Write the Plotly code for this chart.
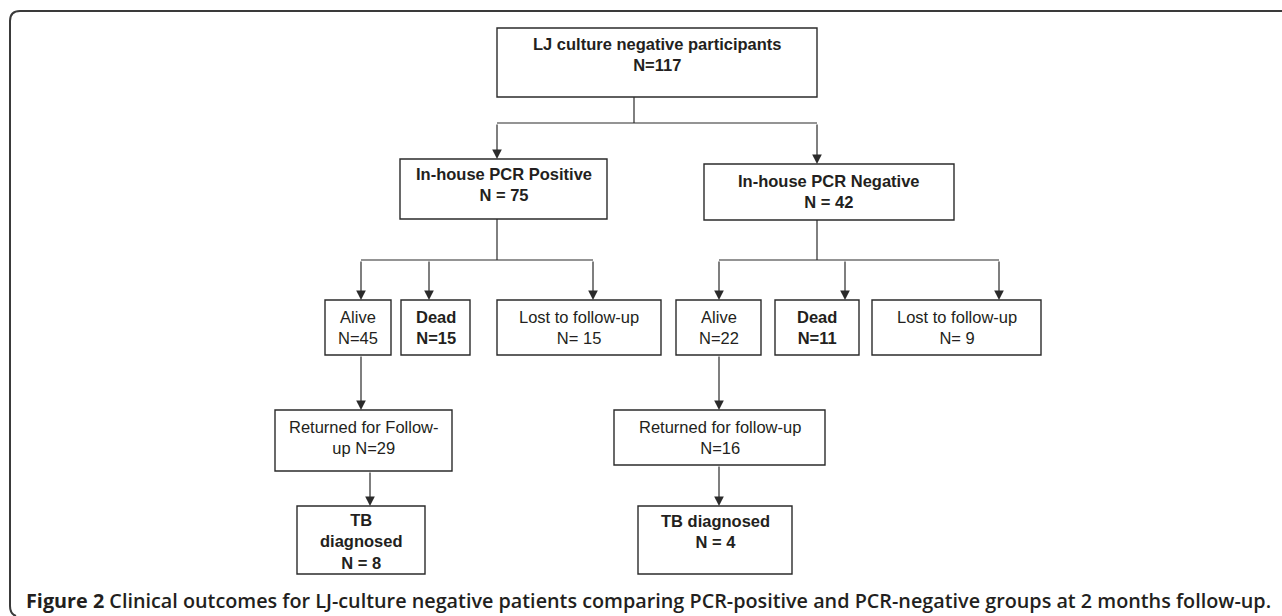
"""Flow chart: clinical outcomes for LJ-culture negative patients."""

import plotly.graph_objects as go

# ── data ──
total_n = 117
pcr_groups = ["Positive", "Negative"]
pcr_n = [75, 42]
alive_n = [45, 22]
dead_n = [15, 11]
lost_n = [15, 9]
returned_n = [29, 16]
tb_n = [8, 4]

caption_bold = "Figure 2"
caption_text = ("Clinical outcomes for LJ-culture negative patients comparing "
                "PCR-positive and PCR-negative groups at 2 months follow-up.")

# box texts (the wording differs a little between the two branches)
labels = {
    "top": f"<b>LJ culture negative participants<br>N={total_n}</b>",
    "pos": f"<b>In-house PCR {pcr_groups[0]}<br>N = {pcr_n[0]}</b>",
    "neg": f"<b>In-house PCR {pcr_groups[1]}<br>N = {pcr_n[1]}</b>",
    "alive0": f"Alive<br>N={alive_n[0]}",
    "dead0": f"<b>Dead<br>N={dead_n[0]}</b>",
    "lost0": f"Lost to follow-up<br>N= {lost_n[0]}",
    "alive1": f"Alive<br>N={alive_n[1]}",
    "dead1": f"<b>Dead<br>N={dead_n[1]}</b>",
    "lost1": f"Lost to follow-up<br>N= {lost_n[1]}",
    "ret0": f"Returned for Follow-<br>up N={returned_n[0]}",
    "ret1": f"Returned for follow-up<br>N={returned_n[1]}",
    "tb0": f"<b>TB<br>diagnosed<br>N = {tb_n[0]}</b>",
    "tb1": f"<b>TB diagnosed<br>N = {tb_n[1]}</b>",
}

# ── layout geometry (pixels, y downwards) ──
# box: (x0, x1, y0, y1, text_y)
boxes = {
    "top": (497, 817, 28, 97, 54),
    "pos": (400, 607, 159, 219, 184),
    "neg": (704, 954, 164, 220, 191),
    "alive0": (325, 391, 300, 355, 327),
    "dead0": (401, 470, 300, 355, 327),
    "lost0": (497, 661, 300, 355, 327),
    "alive1": (676, 761, 300, 355, 327),
    "dead1": (775, 859, 300, 355, 327),
    "lost1": (872, 1041, 300, 355, 327),
    "ret0": (275, 452, 410, 471, 437),
    "ret1": (614, 825, 410, 465, 437),
    "tb0": (297, 425, 506, 574, 541),
    "tb1": (638, 792, 506, 574, 531),
}

# splits: (stem_x, stem_y0, bus_y, [(arrow_x, arrow_tip_y), ...])
splits = [
    (634, 97, 123, [(497, 159), (817, 164)]),
    (497, 219, 260, [(361, 300), (429, 300), (593, 300)]),
    (817, 220, 260, [(719, 300), (845, 300), (999, 300)]),
]
# straight arrows: (x, y_from, y_to)
arrows = [
    (361, 355, 410),
    (370, 471, 506),
    (719, 355, 410),
    (719, 465, 506),
]

LINE = "#2b2b2b"
TEXT = "#231f20"
FONT = "Liberation Sans, Arial, sans-serif"

fig = go.Figure()
shapes = []
annotations = []

# outer frame with rounded left corners
shapes.append(dict(
    type="path",
    path="M 1290,11 L 20,11 Q 10,11 10,21 L 10,606 Q 10,614 16,616",
    line=dict(color="#3a3a3a", width=2),
))

for key, (x0, x1, y0, y1, ty) in boxes.items():
    shapes.append(dict(type="rect", x0=x0, x1=x1, y0=y0, y1=y1,
                       line=dict(color=LINE, width=1.4), fillcolor="white"))
    annotations.append(dict(
        x=(x0 + x1) / 2, y=ty, text=labels[key], showarrow=False,
        xanchor="center", yanchor="middle", align="center",
        font=dict(family=FONT, size=16.5, color=TEXT),
    ))

def add_arrow(x, y_from, y_to):
    annotations.append(dict(
        x=x, y=y_to, ax=x, ay=y_from, xref="x", yref="y", axref="x", ayref="y",
        text="", showarrow=True, arrowhead=2, arrowsize=1.6, arrowwidth=1.2,
        arrowcolor=LINE, standoff=0,
    ))

for stem_x, stem_y0, bus_y, targets in splits:
    shapes.append(dict(type="line", x0=stem_x, x1=stem_x, y0=stem_y0, y1=bus_y,
                       line=dict(color=LINE, width=1.2)))
    xs = [t[0] for t in targets]
    shapes.append(dict(type="line", x0=min(xs), x1=max(xs), y0=bus_y, y1=bus_y,
                       line=dict(color=LINE, width=1.2)))
    for ax_, tip in targets:
        add_arrow(ax_, bus_y, tip)

for x, y_from, y_to in arrows:
    add_arrow(x, y_from, y_to)

# caption
annotations.append(dict(
    x=24, y=600, xanchor="left", yanchor="middle", showarrow=False,
    text=f"<b>{caption_bold}</b> {caption_text}",
    font=dict(family="Open Sans, Noto Sans, sans-serif", size=19.8, color=TEXT,
              weight=600),
))

fig.update_layout(
    width=1282, height=616,
    margin=dict(l=0, r=0, t=0, b=0),
    paper_bgcolor="white", plot_bgcolor="white",
    xaxis=dict(range=[0, 1282], visible=False, fixedrange=True),
    yaxis=dict(range=[616, 0], visible=False, fixedrange=True),
    shapes=shapes, annotations=annotations,
    showlegend=False,
)

# drop the default page margin so the figure sits at the window's corner
fig.write_html("out.html", config={"displayModeBar": False},
               post_script="document.body.style.margin='0px';")
